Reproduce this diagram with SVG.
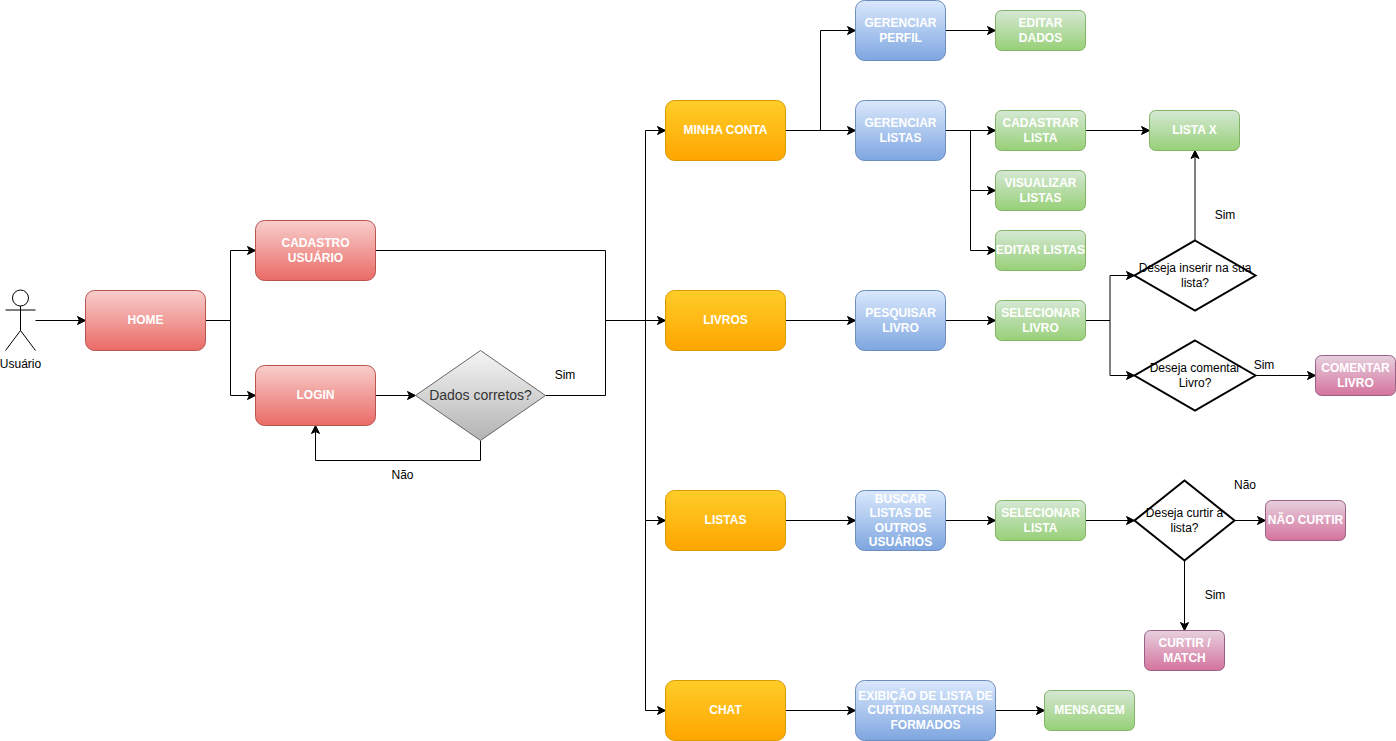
<svg xmlns="http://www.w3.org/2000/svg" width="1396" height="741" viewBox="0 0 1396 741">
<style>
text{font-family:"Liberation Sans",Arial,Helvetica,sans-serif;font-size:12px;text-anchor:middle;fill:#000}
.w{fill:#fff;font-weight:bold}
.red{fill:url(#gr);stroke:#b85450}
.blue{fill:url(#gb);stroke:#6c8ebf}
.green{fill:url(#gg);stroke:#82b366}
.pink{fill:url(#gp);stroke:#996185}
.orange{fill:url(#go);stroke:#d79b00}
.dec{fill:#fff;stroke:#000;stroke-width:2}
.c path{fill:none;stroke:#000;stroke-width:1}
.a{marker-end:url(#arr)}
.actor *{fill:none;stroke:#000;stroke-width:1}
.actor circle{fill:#fff}
</style>
<defs>
<linearGradient id="gr" x1="0" y1="0" x2="0" y2="1"><stop offset="0" stop-color="#f8cecc"/><stop offset="1" stop-color="#ea6b66"/></linearGradient>
<linearGradient id="gb" x1="0" y1="0" x2="0" y2="1"><stop offset="0" stop-color="#dae8fc"/><stop offset="1" stop-color="#7ea6e0"/></linearGradient>
<linearGradient id="gg" x1="0" y1="0" x2="0" y2="1"><stop offset="0" stop-color="#d5e8d4"/><stop offset="1" stop-color="#97d077"/></linearGradient>
<linearGradient id="gp" x1="0" y1="0" x2="0" y2="1"><stop offset="0" stop-color="#e6d0de"/><stop offset="1" stop-color="#d5739d"/></linearGradient>
<linearGradient id="go" x1="0" y1="0" x2="0" y2="1"><stop offset="0" stop-color="#ffcd28"/><stop offset="1" stop-color="#ffa500"/></linearGradient>
<linearGradient id="gy" x1="0" y1="0" x2="0" y2="1"><stop offset="0" stop-color="#f5f5f5"/><stop offset="1" stop-color="#b3b3b3"/></linearGradient>
<marker id="arr" markerUnits="userSpaceOnUse" markerWidth="10" markerHeight="10" refX="8" refY="5" orient="auto" overflow="visible"><path d="M0,1 L8,5 L0,9 L2,5 Z" fill="#000" stroke="#000" stroke-width="1"/></marker>
</defs>
<g id="connectors" class="c">
<path class="a" d="M35.5,320.5H85.5"/>
<path class="a" d="M205.5,320.5H230.5V250.5H255.5"/>
<path class="a" d="M205.5,320.5H230.5V395.5H255.5"/>
<path class="a" d="M375.5,395.5H415.5"/>
<path class="a" d="M480.5,440.5V460.5H315.5V425.5"/>
<path d="M375.5,250.5H605.5V320.5"/>
<path d="M545.5,395.5H605.5V320.5"/>
<path class="a" d="M605.5,320.5H665.5"/>
<path class="a" d="M605.5,320.5H645.5V130.5H665.5"/>
<path class="a" d="M645.5,320.5V520.5H665.5"/>
<path class="a" d="M645.5,520.5V710.5H665.5"/>
<path class="a" d="M785.5,130.5H855.5"/>
<path class="a" d="M820.5,130.5V30.5H855.5"/>
<path class="a" d="M945.5,30.5H995.5"/>
<path class="a" d="M945.5,130.5H995.5"/>
<path class="a" d="M970.5,130.5V190.5H995.5"/>
<path class="a" d="M970.5,190.5V250.5H995.5"/>
<path class="a" d="M1085.5,130.5H1149.5"/>
<path class="a" d="M785.5,320.5H855.5"/>
<path class="a" d="M945.5,320.5H995.5"/>
<path class="a" d="M1085.5,320.5H1110V275.5H1134.5"/>
<path class="a" d="M1110,320.5V375.5H1134.5"/>
<path class="a" d="M1195,240.5V150.5"/>
<path class="a" d="M1255.5,375.5H1315.5"/>
<path class="a" d="M785.5,520.5H855.5"/>
<path class="a" d="M945.5,520.5H995.5"/>
<path class="a" d="M1085.5,520.5H1134.5"/>
<path class="a" d="M1234.5,520.5H1265.5"/>
<path class="a" d="M1184.5,560.5V630.5"/>
<path class="a" d="M785.5,710.5H855.5"/>
<path class="a" d="M995.5,710.5H1044.5"/>
</g>
<g id="usuario" class="actor"><circle cx="20.5" cy="298" r="8"/><path d="M20.5,306V330.5M5.5,310H35.5M5.5,350.5L20.5,330.5L35.5,350.5"/></g>
<text x="20.5" y="368">Usuário</text>
<g id="home"><rect class="red" x="85.5" y="290.5" width="120" height="60" rx="9"/><text class="w" x="145.5" y="324">HOME</text></g>
<g id="cadastro"><rect class="red" x="255.5" y="220.5" width="120" height="60" rx="9"/><text class="w" x="315.5" y="247">CADASTRO</text><text class="w" x="315.5" y="262">USUÁRIO</text></g>
<g id="login"><rect class="red" x="255.5" y="365.5" width="120" height="60" rx="9"/><text class="w" x="315.5" y="399">LOGIN</text></g>
<g id="dados"><path d="M480.5,350.5L545.5,395.5L480.5,440.5L415.5,395.5Z" fill="url(#gy)" stroke="#666666"/><text x="480.5" y="400" style="font-size:14px;fill:#333">Dados corretos?</text></g>
<g id="minha-conta"><rect class="orange" x="665.5" y="100.5" width="120" height="60" rx="9"/><text class="w" x="725.5" y="134">MINHA CONTA</text></g>
<g id="livros"><rect class="orange" x="665.5" y="290.5" width="120" height="60" rx="9"/><text class="w" x="725.5" y="324">LIVROS</text></g>
<g id="listas"><rect class="orange" x="665.5" y="490.5" width="120" height="60" rx="9"/><text class="w" x="725.5" y="524">LISTAS</text></g>
<g id="chat"><rect class="orange" x="665.5" y="680.5" width="120" height="60" rx="9"/><text class="w" x="725.5" y="714">CHAT</text></g>
<g id="gerenciar-perfil"><rect class="blue" x="855.5" y="0.5" width="90" height="60" rx="9"/><text class="w" x="900.5" y="27">GERENCIAR</text><text class="w" x="900.5" y="42">PERFIL</text></g>
<g id="gerenciar-listas"><rect class="blue" x="855.5" y="100.5" width="90" height="60" rx="9"/><text class="w" x="900.5" y="127">GERENCIAR</text><text class="w" x="900.5" y="142">LISTAS</text></g>
<g id="pesquisar"><rect class="blue" x="855.5" y="290.5" width="90" height="60" rx="9"/><text class="w" x="900.5" y="317">PESQUISAR</text><text class="w" x="900.5" y="332">LIVRO</text></g>
<g id="buscar"><rect class="blue" x="855.5" y="490.5" width="90" height="60" rx="9"/><text class="w" x="900.5" y="503">BUSCAR</text><text class="w" x="900.5" y="517">LISTAS DE</text><text class="w" x="900.5" y="532">OUTROS</text><text class="w" x="900.5" y="546">USUÁRIOS</text></g>
<g id="exibicao"><rect class="blue" x="855.5" y="680.5" width="140" height="60" rx="9"/><text class="w" x="925.5" y="700">EXIBIÇÃO DE LISTA DE</text><text class="w" x="925.5" y="714">CURTIDAS/MATCHS</text><text class="w" x="925.5" y="729">FORMADOS</text></g>
<g id="editar-dados"><rect class="green" x="995.5" y="10.5" width="90" height="40" rx="6"/><text class="w" x="1040.5" y="27">EDITAR</text><text class="w" x="1040.5" y="42">DADOS</text></g>
<g id="cadastrar-lista"><rect class="green" x="995.5" y="110.5" width="90" height="40" rx="6"/><text class="w" x="1040.5" y="127">CADASTRAR</text><text class="w" x="1040.5" y="142">LISTA</text></g>
<g id="visualizar"><rect class="green" x="995.5" y="170.5" width="90" height="40" rx="6"/><text class="w" x="1040.5" y="187">VISUALIZAR</text><text class="w" x="1040.5" y="202">LISTAS</text></g>
<g id="editar-listas"><rect class="green" x="995.5" y="230.5" width="90" height="40" rx="6"/><text class="w" x="1040.5" y="254">EDITAR LISTAS</text></g>
<g id="selecionar-livro"><rect class="green" x="995.5" y="300.5" width="90" height="40" rx="6"/><text class="w" x="1040.5" y="317">SELECIONAR</text><text class="w" x="1040.5" y="332">LIVRO</text></g>
<g id="selecionar-lista"><rect class="green" x="995.5" y="500.5" width="90" height="40" rx="6"/><text class="w" x="1040.5" y="517">SELECIONAR</text><text class="w" x="1040.5" y="532">LISTA</text></g>
<g id="mensagem"><rect class="green" x="1044.5" y="690.5" width="90" height="40" rx="6"/><text class="w" x="1089.5" y="714">MENSAGEM</text></g>
<g id="lista-x"><rect class="green" x="1149.5" y="110.5" width="90" height="40" rx="6"/><text class="w" x="1194.5" y="134">LISTA X</text></g>
<g id="dec-inserir"><path class="dec" d="M1195,240.5L1255.5,275.5L1195,310.5L1134.5,275.5Z"/><text x="1195" y="272">Deseja inserir na sua</text><text x="1195" y="287">lista?</text></g>
<g id="dec-comentar"><path class="dec" d="M1195,340.5L1255.5,375.5L1195,410.5L1134.5,375.5Z"/><text x="1195" y="372">Deseja comentar</text><text x="1195" y="387">Livro?</text></g>
<g id="dec-curtir"><path class="dec" d="M1184.5,480.5L1234.5,520.5L1184.5,560.5L1134.5,520.5Z"/><text x="1184.5" y="517">Deseja curtir a</text><text x="1184.5" y="532">lista?</text></g>
<g id="comentar"><rect class="pink" x="1315.5" y="355.5" width="80" height="40" rx="6"/><text class="w" x="1355.5" y="372">COMENTAR</text><text class="w" x="1355.5" y="387">LIVRO</text></g>
<g id="nao-curtir"><rect class="pink" x="1265.5" y="500.5" width="80" height="40" rx="6"/><text class="w" x="1305.5" y="524">NÃO CURTIR</text></g>
<g id="curtir"><rect class="pink" x="1144.5" y="630.5" width="80" height="40" rx="6"/><text class="w" x="1184.5" y="647">CURTIR /</text><text class="w" x="1184.5" y="662">MATCH</text></g>
<text x="565" y="379">Sim</text>
<text x="402.5" y="479">Não</text>
<text x="1225" y="219">Sim</text>
<text x="1264" y="369">Sim</text>
<text x="1245" y="489">Não</text>
<text x="1215" y="599">Sim</text>
</svg>
